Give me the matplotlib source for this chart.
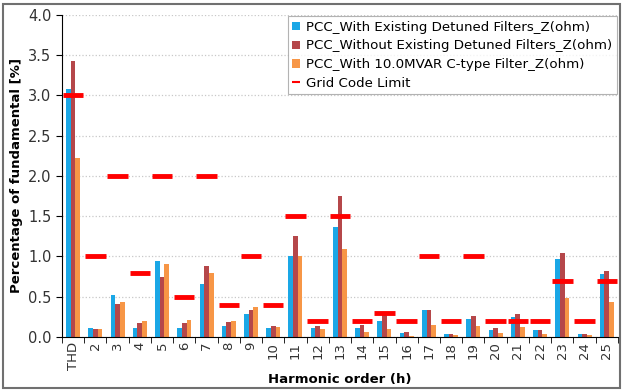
import numpy as np
import matplotlib
matplotlib.use("Agg")
import matplotlib.pyplot as plt
from matplotlib.patches import Rectangle

# harmonic orders
orders = ["THD"] + [str(h) for h in range(2, 26)]

with_detuned = [3.08, 0.11, 0.52, 0.11, 0.94, 0.11, 0.66, 0.14, 0.28, 0.11,
                1.00, 0.11, 1.37, 0.11, 0.20, 0.05, 0.34, 0.04, 0.22, 0.09,
                0.25, 0.09, 0.97, 0.04, 0.78]
without_detuned = [3.43, 0.10, 0.41, 0.17, 0.74, 0.17, 0.88, 0.19, 0.34, 0.14,
                   1.25, 0.14, 1.75, 0.15, 0.27, 0.06, 0.33, 0.04, 0.26, 0.11,
                   0.29, 0.09, 1.04, 0.04, 0.82]
with_ctype = [2.22, 0.10, 0.44, 0.20, 0.91, 0.21, 0.79, 0.20, 0.37, 0.13,
              1.00, 0.10, 1.09, 0.06, 0.10, 0.01, 0.15, 0.02, 0.14, 0.05,
              0.12, 0.04, 0.48, 0.02, 0.44]
grid_limit = [3.0, 1.0, 2.0, 0.8, 2.0, 0.5, 2.0, 0.4, 1.0, 0.4,
              1.5, 0.2, 1.5, 0.2, 0.3, 0.2, 1.0, 0.2, 1.0, 0.2,
              0.2, 0.2, 0.7, 0.2, 0.7]

labels = ["PCC_With Existing Detuned Filters_Z(ohm)",
          "PCC_Without Existing Detuned Filters_Z(ohm)",
          "PCC_With 10.0MVAR C-type Filter_Z(ohm)",
          "Grid Code Limit"]

fig = plt.figure(figsize=(6.26, 3.91), dpi=100)
ax = fig.add_axes([0.099, 0.138, 0.888, 0.824])

x = np.arange(len(orders))
w = 0.21
b1 = ax.bar(x - w, with_detuned, w, color="#1aa7e6", label=labels[0], zorder=2)
b2 = ax.bar(x, without_detuned, w, color="#b5474a", label=labels[1], zorder=2)
b3 = ax.bar(x + w, with_ctype, w, color="#f79646", label=labels[2], zorder=2)
lim = ax.hlines(grid_limit, x - 0.46, x + 0.46, color="#ff0000", lw=3.5,
                label=labels[3], zorder=3)

ax.set_xlim(-0.5, len(orders) - 0.5)
ax.set_ylim(0, 4.0)
ax.set_yticks(np.arange(0, 4.01, 0.5))
ax.set_yticklabels(["%.1f" % v for v in np.arange(0, 4.01, 0.5)], fontsize=10.5,
                   color="#333333")
ax.set_xticks(x)
ax.set_xticklabels(orders, rotation=90, fontsize=9.5, color="#333333")
ax.tick_params(axis="x", length=0)
ax.set_xticks(np.arange(-0.5, len(orders)), minor=True)
ax.tick_params(axis="x", which="minor", length=4, direction="out")
ax.tick_params(axis="y", length=4, direction="out")

ax.yaxis.grid(True, color="#c8c8c8", ls=":", lw=0.9, zorder=0)
for s in ["top", "right"]:
    ax.spines[s].set_visible(False)

ax.set_ylabel("Percentage of fundamental [%]", fontsize=9.5, fontweight="bold")
ax.set_xlabel("Harmonic order (h)", fontsize=9.5, fontweight="bold", labelpad=2)

leg = ax.legend([b1, b2, b3, lim], labels, loc="upper right", fontsize=9.6,
                frameon=True, fancybox=False, borderpad=0.35, labelspacing=0.42,
                handlelength=0.6, handleheight=0.6, handletextpad=0.4,
                borderaxespad=0.1)
leg.get_frame().set_edgecolor("#a0a0a0")
leg.get_frame().set_linewidth(0.8)
for h in leg.legend_handles[3:]:
    h.set_linewidth(1.5)

fig.add_artist(Rectangle((0.004, 0.008), 0.986, 0.983, transform=fig.transFigure,
                         fill=False, edgecolor="#707070", lw=1.5))

fig.savefig("out.png", dpi=100)
